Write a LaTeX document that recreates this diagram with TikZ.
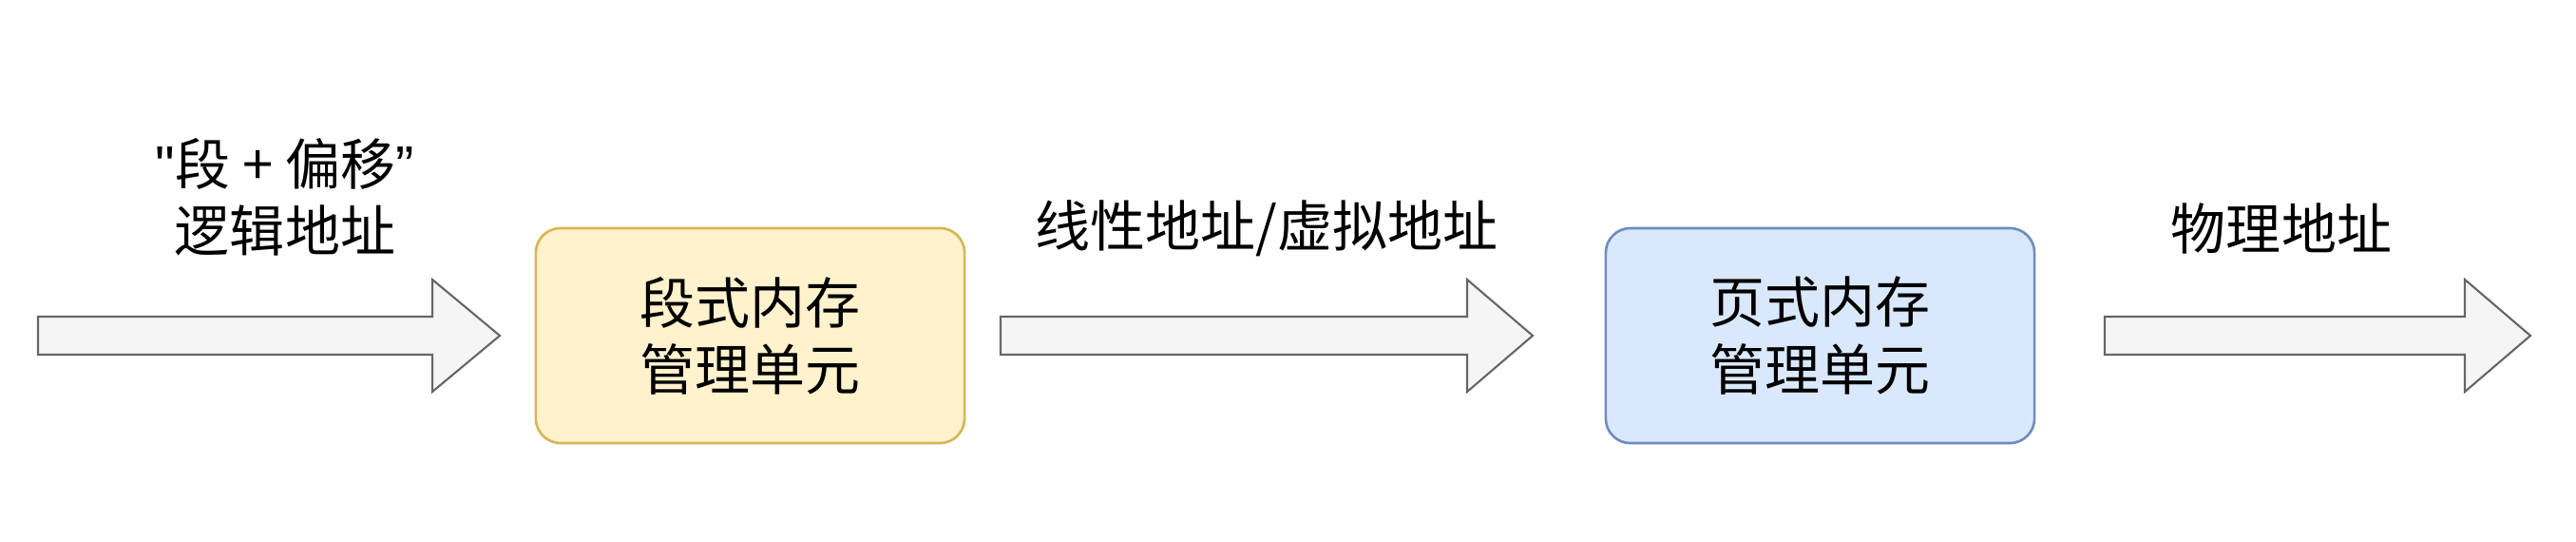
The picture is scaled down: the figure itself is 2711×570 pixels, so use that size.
\documentclass[tikz,border=0pt]{standalone}
\usepackage{fontspec}
\setmainfont{Noto Sans CJK SC}
\newfontfamily\latinq{Liberation Sans}
\definecolor{segfill}{HTML}{FFF2CC}
\definecolor{segline}{HTML}{D6B656}
\definecolor{pagefill}{HTML}{DAE8FC}
\definecolor{pageline}{HTML}{6C8EBF}
\definecolor{arrfill}{HTML}{F5F5F5}
\definecolor{arrline}{HTML}{666666}
\begin{document}
\begin{tikzpicture}[x=0.01cm,y=-0.01cm,
  unitbox/.style={draw, line width=0.75pt, rounded corners=0.26cm, minimum width=4.51cm, minimum height=2.26cm, align=center, inner sep=0pt, font=\fontsize{16.5pt}{20pt}\selectfont},
  blockarrow/.style={draw=arrline, fill=arrfill, line width=0.6pt, line join=miter},
  lbl/.style={align=center, inner sep=0pt, font=\fontsize{16.5pt}{20pt}\selectfont}]
\useasboundingbox (0,0) rectangle (2711,570);
% boxes
\node[unitbox, draw=segline, fill=segfill] (seg) at (789.5,353) {段式内存\\管理单元};
\node[unitbox, draw=pageline, fill=pagefill] (page) at (1915.5,353) {页式内存\\管理单元};
% block arrows
\coordinate (a1s) at (40,353);
\coordinate (a1t) at (526,353);
\coordinate (a2s) at (1053,353);
\coordinate (a2t) at (1613,353);
\coordinate (a3s) at (2215,353);
\coordinate (a3t) at (2663,353);
\draw[blockarrow] (a1s) ++(0,-20) -- (455,333) -- (455,294) -- (a1t) -- (455,412) -- (455,373) -- ([yshift=-0.2cm]a1s) -- cycle;
\draw[blockarrow] (a2s) ++(0,-20) -- (1544,333) -- (1544,294) -- (a2t) -- (1544,412) -- (1544,373) -- ([yshift=-0.2cm]a2s) -- cycle;
\draw[blockarrow] (a3s) ++(0,-20) -- (2594,333) -- (2594,294) -- (a3t) -- (2594,412) -- (2594,373) -- ([yshift=-0.2cm]a3s) -- cycle;
% labels
\node[lbl] (l1) at (300,207) {{\latinq "}段 + 偏移{\latinq ”}\\逻辑地址};
\node[lbl] (l2) at (1333,240) {线性地址/虚拟地址};
\node[lbl] (l3) at (2401,240) {物理地址};
\end{tikzpicture}
\end{document}
